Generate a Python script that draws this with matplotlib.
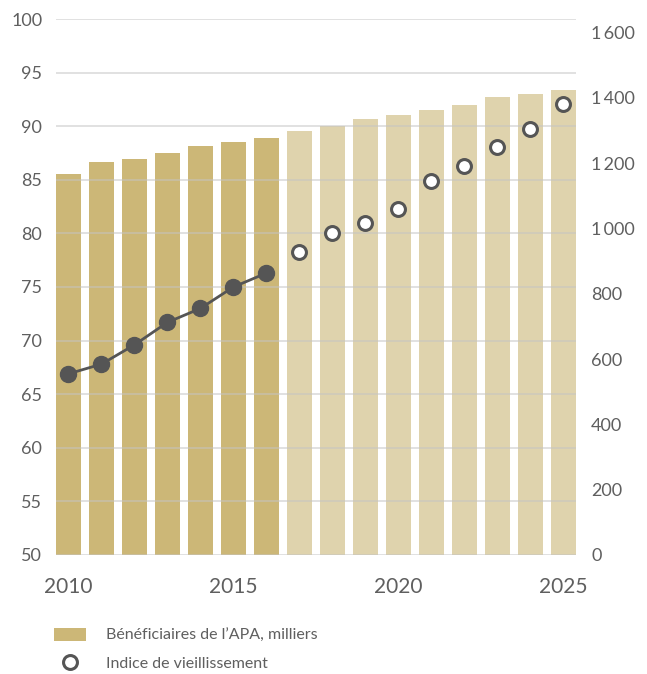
import matplotlib
matplotlib.use('Agg')
from matplotlib import pyplot as plt
from matplotlib.patches import Patch
from matplotlib.lines import Line2D
from matplotlib.ticker import FuncFormatter

plt.rcParams['font.family'] = ['Lato', 'DejaVu Sans']

# données
years = list(range(2010, 2026))
apa = [1167, 1204, 1213, 1231, 1253, 1265, 1277, 1299, 1314, 1335,
       1348, 1363, 1378, 1403, 1412, 1424]          # milliers
indice = [66.9, 67.8, 69.6, 71.7, 73.0, 75.0, 76.3, 78.3, 80.0, 81.0,
          82.3, 84.9, 86.3, 88.1, 89.7, 92.1]
last_obs = 2016  # observé jusqu'à 2016, projections ensuite

dark = '#CCB777'
light = '#DFD3AD'
grey = '#555555'
txt = '#5f5f5f'

fig = plt.figure(figsize=(6.47, 6.74), dpi=100)
ax = fig.add_axes([0.0866, 0.1766, 0.8034, 0.7952])

# barres sur l'axe principal (graduations à droite)
colors = [dark if y <= last_obs else light for y in years]
ax.bar(years, apa, width=0.75, color=colors, zorder=1)
ax.set_ylim(0, 1641)
ax.set_xlim(2009.625, 2025.375)
ax.set_xticks([2010, 2015, 2020, 2025])
ax.tick_params(axis='x', length=0, pad=16, labelsize=15, labelcolor=txt)
for s in ax.spines.values():
    s.set_visible(False)

# indice sur l'axe jumeau (graduations à gauche)
ax2 = ax.twinx()
ax2.yaxis.tick_left()
ax2.set_ylim(50, 100)
ax2.set_yticks(range(50, 101, 5))
ax2.tick_params(axis='y', length=0, pad=10, labelsize=13, labelcolor=txt)
ax2.grid(True, axis='y', color='#c4c4c4', alpha=0.55, linewidth=1.3, zorder=0)
ax2.set_axisbelow(True)
for s in ax2.spines.values():
    s.set_visible(False)

# twinx remet les graduations de ax à gauche : on les renvoie à droite
ax.yaxis.tick_right()
ax.set_yticks(range(0, 1601, 200))
ax.yaxis.set_major_formatter(FuncFormatter(
    lambda v, p: '{:,}'.format(int(v)).replace(',', '\u2009')))
ax.tick_params(axis='y', length=0, pad=11, labelsize=13, labelcolor=txt)

obs_x = [y for y in years if y <= last_obs]
obs_y = [v for y, v in zip(years, indice) if y <= last_obs]
prj_x = [y for y in years if y > last_obs]
prj_y = [v for y, v in zip(years, indice) if y > last_obs]
ax2.plot(obs_x, obs_y, '-o', color=grey, lw=2, ms=11.5, zorder=3)
ax2.plot(prj_x, prj_y, 'o', mfc='white', mec=grey, mew=2.2, ms=10, zorder=3)

handles = [Patch(facecolor=dark, edgecolor='none'),
           Line2D([], [], ls='none', marker='o', mfc='white', mec=grey, mew=2.2, ms=10)]
labels = ["Bénéficiaires de l\u2019APA, milliers", 'Indice de vieillissement']
fig.legend(handles, labels, loc='upper left', bbox_to_anchor=(0.083, 0.068),
           frameon=False, borderpad=0, borderaxespad=0, fontsize=11.5,
           handlelength=2.05, handleheight=0.9, handletextpad=1.2,
           labelspacing=0.8, labelcolor=txt)

fig.savefig('out.png', dpi=100)
